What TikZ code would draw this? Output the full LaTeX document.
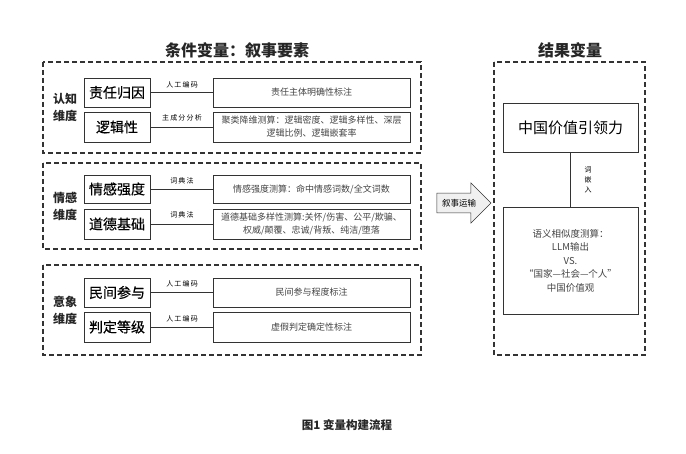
\documentclass[tikz,border=0pt]{standalone}
\usepackage{fontspec}
\setmainfont{Liberation Serif}
\newfontfamily\cjk{Noto Sans CJK SC}
\newfontfamily\cjkm[FakeBold=0.4]{Noto Sans CJK SC}
\usetikzlibrary{shapes.arrows}
\definecolor{txtgray}{HTML}{444444}
\definecolor{linegray}{HTML}{333333}
\tikzset{
  dashbox/.style={draw=linegray, line width=1.3pt, dash pattern=on 5pt off 3pt},
  lbl/.style={draw=linegray, line width=0.9pt, minimum width=66pt, inner sep=0pt, font=\cjkm\fontsize{14}{16}\selectfont, text=black},
  desc/.style={draw=linegray, line width=0.6pt, minimum width=197pt, inner sep=1pt, align=center, font=\cjk\fontsize{9}{13}\selectfont, text=txtgray},
  dim/.style={align=center, font=\cjk\bfseries\fontsize{12}{17}\selectfont, text=black!85},
  small/.style={font=\cjk\fontsize{7}{8}\selectfont, text=black},
  conn/.style={draw=linegray, line width=0.8pt},
  ttl/.style={font=\cjk\bfseries\fontsize{16}{18}\selectfont, text=black!85},
}
\begin{document}
\begin{tikzpicture}[x=1pt,y=-1pt]
\useasboundingbox[fill=white] (0,0) rectangle (686,454);
% titles
\node[ttl] (t1) at (237,50) {条件变量：叙事要素};
\node[ttl] (t2) at (570,50) {结果变量};
% dashed groups
\draw[dashbox] (43,62) rectangle (421,153);
\draw[dashbox] (43,163) rectangle (421,249);
\draw[dashbox] (43,265) rectangle (421,355);
\draw[dashbox] (494,62) rectangle (645,355);
% dimension labels
\node[dim] (d1) at (65,107) {认知\\维度};
\node[dim] (d2) at (65,206) {情感\\维度};
\node[dim] (d3) at (65,310) {意象\\维度};
% group 1
\node[lbl, minimum height=29pt] (a1) at (117,92.5) {责任归因};
\node[lbl, minimum height=30pt] (a2) at (117,127) {逻辑性};
\node[desc, minimum height=29pt] (b1) at (311.5,92.5) {责任主体明确性标注};
\node[desc, minimum height=30pt] (b2) at (311.5,127) {聚类降维测算：逻辑密度、逻辑多样性、深层\\逻辑比例、逻辑嵌套率};
\draw[conn] (a1) -- (b1);
\draw[conn] (a2) -- (b2);
\node[small] (s1) at (182,85) {人\,工\,编\,码};
\node[small] (s2) at (182,118) {主\,成\,分\,分\,析};
% group 2
\node[lbl, minimum height=28pt] (a3) at (117,189) {情感强度};
\node[lbl, minimum height=30pt] (a4) at (117,224) {道德基础};
\node[desc, minimum height=28pt] (b3) at (311.5,189) {情感强度测算：命中情感词数/全文词数};
\node[desc, minimum height=30pt] (b4) at (311.5,224) {道德基础多样性测算:关怀/伤害、公平/欺骗、\\权威/颠覆、忠诚/背叛、纯洁/堕落};
\draw[conn] (a3) -- (b3);
\draw[conn] (a4) -- (b4);
\node[small] (s3) at (182,181) {词\,典\,法};
\node[small] (s4) at (182,215) {词\,典\,法};
% group 3
\node[lbl, minimum height=29pt] (a5) at (117,292.5) {民间参与};
\node[lbl, minimum height=30pt] (a6) at (117,327) {判定等级};
\node[desc, minimum height=29pt] (b5) at (311.5,292.5) {民间参与程度标注};
\node[desc, minimum height=30pt] (b6) at (311.5,327) {虚假判定确定性标注};
\draw[conn] (a5) -- (b5);
\draw[conn] (a6) -- (b6);
\node[small] (s5) at (182,284) {人\,工\,编\,码};
\node[small] (s6) at (182,319) {人\,工\,编\,码};
% arrow
\node[single arrow, draw=linegray, line width=0.6pt, fill=gray!12, minimum height=54pt, minimum width=40pt, single arrow head extend=10pt, inner xsep=2pt, inner ysep=5.5pt, font=\cjk\fontsize{8.5}{9}\selectfont] (arr) at (459,203) {叙事运输};
% result
\node[draw=linegray, line width=0.9pt, minimum width=135pt, minimum height=49pt, inner sep=0pt, font=\cjk\fontsize{15}{17}\selectfont] (r1) at (570.5,127.5) {中国价值引领力};
\node[draw=linegray, line width=0.9pt, minimum width=135pt, minimum height=107pt, inner sep=0pt, align=center, font=\cjk\fontsize{9.5}{13.5}\selectfont, text=txtgray] (r2) at (570.5,260.5) {语义相似度测算：\\LLM输出\\VS.\\“国家—社会—个人”\\中国价值观};
\draw[conn, line width=1pt] (r1) -- (r2);
\node[small, align=center, font=\cjk\fontsize{7}{10}\selectfont] (s7) at (588,180) {词\\嵌\\入};
% caption
\node[font=\cjk\bfseries\fontsize{11.5}{13}\selectfont, text=black!85] (cap) at (347,425) {图1 变量构建流程};
\end{tikzpicture}
\end{document}
